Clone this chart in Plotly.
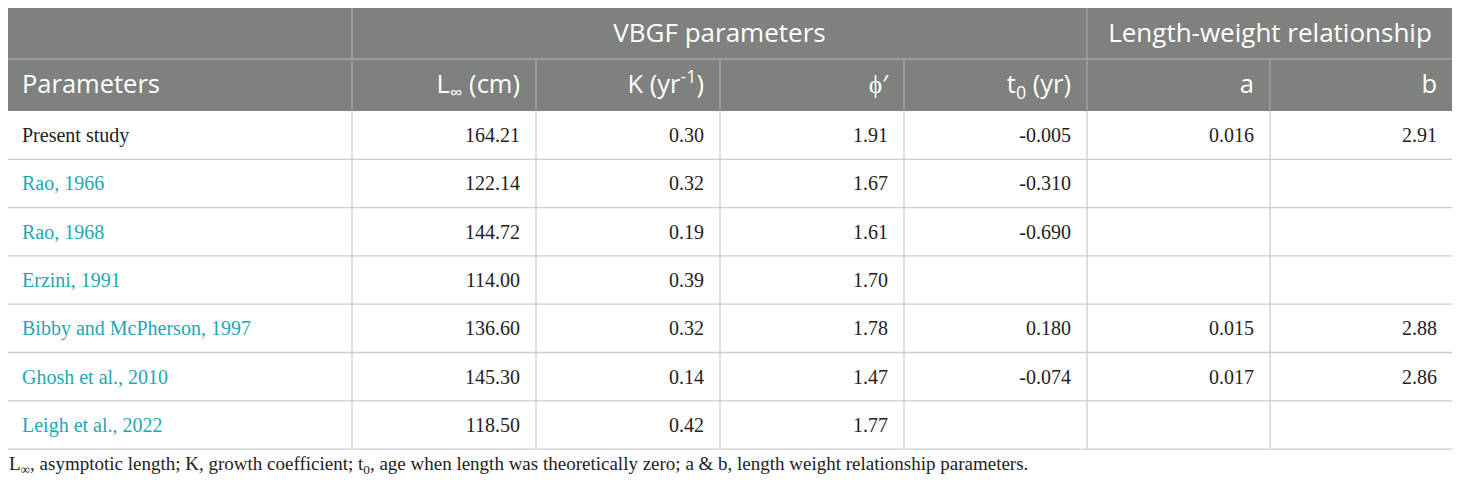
import numpy as np
import plotly.graph_objects as go

# table contents
group_headers = ["VBGF parameters", "Length-weight relationship"]
group_spans = [(1, 5), (5, 7)]  # column ranges covered by each group header
col_headers = ["Parameters", "L<sub>∞</sub> (cm)", "K (yr<sup>-1</sup>)", "ϕ′",
               "t<sub>0</sub> (yr)", "a", "b"]
studies = ["Present study", "Rao, 1966", "Rao, 1968", "Erzini, 1991",
           "Bibby and McPherson, 1997", "Ghosh et al., 2010", "Leigh et al., 2022"]
l_inf = ["164.21", "122.14", "144.72", "114.00", "136.60", "145.30", "118.50"]
k_vals = ["0.30", "0.32", "0.19", "0.39", "0.32", "0.14", "0.42"]
phi_vals = ["1.91", "1.67", "1.61", "1.70", "1.78", "1.47", "1.77"]
t0_vals = ["-0.005", "-0.310", "-0.690", "", "0.180", "-0.074", ""]
a_vals = ["0.016", "", "", "", "0.015", "0.017", ""]
b_vals = ["2.91", "", "", "", "2.88", "2.86", ""]
footnote = ("L<sub>∞</sub>, asymptotic length; K, growth coefficient; t<sub>0</sub>, "
            "age when length was theoretically zero; a & b, length weight relationship parameters.")

# layout in page pixels
OFF = 8  # default body margin of the html page
PAGE_W, PAGE_H = 1460, 486
LEFT, TOP = 7, 7
col_widths = [345, 184, 184, 184, 183, 183, 183]
head_h = 52
row_h = 48.3
PAD_L, PAD_R = 15, 16
DY = 2  # plotly's "middle" sits a touch high

HEAD_BG = "#7f817f"
HEAD_LINE = "#a3a5a3"
GRID = "#cccccc"
LINK = "#22a7b7"
TEXT = "#222222"
HEAD_FONT = "Open Sans"
CELL_FONT = "Liberation Serif"

columns = [studies, l_inf, k_vals, phi_vals, t0_vals, a_vals, b_vals]
n = len(studies)

x_edges = LEFT + np.concatenate([[0], np.cumsum(col_widths)])
head_edges = TOP + np.array([0, head_h, 2 * head_h])
row_edges = head_edges[-1] + row_h * np.arange(n + 1)
row_mid = (row_edges[:-1] + row_edges[1:]) / 2 + DY
right = x_edges[-1]

fig = go.Figure()


def line(x_a, y_a, x_b, y_b, color):
    fig.add_shape(type="line", x0=x_a, y0=y_a, x1=x_b, y1=y_b,
                  line=dict(color=color, width=1.3), layer="above")


# header background
fig.add_shape(type="rect", x0=x_edges[0], x1=right, y0=head_edges[0], y1=head_edges[-1],
              fillcolor=HEAD_BG, line_width=0, layer="below")

# header rules
line(x_edges[0], head_edges[1], right, head_edges[1], HEAD_LINE)
for a, _ in group_spans:
    line(x_edges[a], head_edges[0], x_edges[a], head_edges[1], HEAD_LINE)
for xe in x_edges[1:-1]:
    line(xe, head_edges[1], xe, head_edges[2], HEAD_LINE)

# body rules
for ye in row_edges[1:]:
    line(x_edges[0], ye, right, ye, GRID)
for xe in x_edges:
    line(xe, row_edges[0], xe, row_edges[-1], GRID)

# group header text
fig.add_trace(go.Scatter(
    x=[(x_edges[a] + x_edges[b]) / 2 for a, b in group_spans],
    y=[(head_edges[0] + head_edges[1]) / 2 + DY] * len(group_headers),
    text=group_headers, mode="text", textposition="middle center",
    textfont=dict(family=HEAD_FONT, size=26, color="white"), hoverinfo="skip",
))

# column header text
head_mid = (head_edges[1] + head_edges[2]) / 2 + DY
fig.add_trace(go.Scatter(
    x=[x_edges[0] + PAD_L], y=[head_mid], text=[col_headers[0]],
    mode="text", textposition="middle right",
    textfont=dict(family=HEAD_FONT, size=25.5, color="white"), hoverinfo="skip",
))
fig.add_trace(go.Scatter(
    x=list(x_edges[2:] - PAD_R), y=[head_mid] * (len(col_headers) - 1), text=col_headers[1:],
    mode="text", textposition="middle left",
    textfont=dict(family=HEAD_FONT, size=25.5, color="white"), hoverinfo="skip",
))

# study names
fig.add_trace(go.Scatter(
    x=[x_edges[0] + PAD_L] * n, y=row_mid, text=studies,
    mode="text", textposition="middle right",
    textfont=dict(family=CELL_FONT, size=20, color=[TEXT] + [LINK] * (n - 1)),
    hoverinfo="skip",
))

# numeric columns
for j, col in enumerate(columns[1:], start=1):
    fig.add_trace(go.Scatter(
        x=[x_edges[j + 1] - PAD_R] * n, y=row_mid, text=col,
        mode="text", textposition="middle left",
        textfont=dict(family=CELL_FONT, size=20, color=TEXT), hoverinfo="skip",
    ))

fig.add_annotation(
    text=footnote, x=0, y=465, xref="paper", yref="y", xshift=LEFT - OFF,
    xanchor="left", yanchor="middle", showarrow=False, align="left",
    font=dict(family=CELL_FONT, size=19, color=TEXT),
)

fig.update_xaxes(range=[OFF, PAGE_W], visible=False, fixedrange=True)
fig.update_yaxes(range=[PAGE_H, OFF], visible=False, fixedrange=True)
fig.update_layout(
    width=PAGE_W - OFF, height=PAGE_H - OFF,
    margin=dict(l=0, r=0, t=0, b=0),
    paper_bgcolor="white", plot_bgcolor="white",
    showlegend=False,
)

fig.write_html("out.html", config={"displayModeBar": False})
